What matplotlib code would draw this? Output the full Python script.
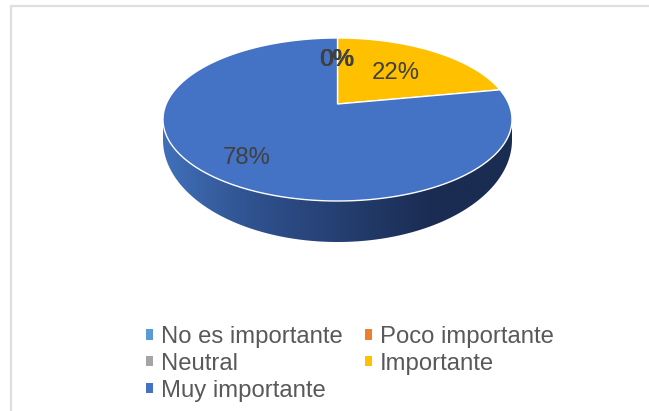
import numpy as np
import matplotlib
matplotlib.use("Agg")
import matplotlib.pyplot as plt
from matplotlib.patches import Polygon, Patch
from matplotlib.colors import LinearSegmentedColormap

categories = ["No es importante", "Poco importante", "Neutral", "Importante", "Muy importante"]
values = [0, 0, 0, 22, 78]
labels = ["0%", "0%", "0%", "22%", "78%"]
colors = ["#5B9BD5", "#ED7D31", "#A5A5A5", "#FFC000", "#4472C4"]

plt.rcParams["font.family"] = ["Liberation Sans", "DejaVu Sans"]
W, H = 649, 411
fig = plt.figure(figsize=(W / 100, H / 100), dpi=100, facecolor="white")
ax = fig.add_axes([0, 0, 1, 1])
ax.set_xlim(0, W)
ax.set_ylim(H, 0)
ax.axis("off")

# chart frame
ax.plot([11, 11, W], [H, 6, 6], color="#DEDEDE", lw=1.6, solid_capstyle="butt", zorder=1)

CX, CY, A, B = 337.5, 119.5, 174.5, 81.5
K = 0.19
S = np.sqrt(1 - K ** 2)


def project(theta):
    """Perspective view of a flat disc; theta runs clockwise from the top."""
    u, v = np.sin(theta), np.cos(theta)
    d = 1 + K * v
    return CX + A * u * S / d, CY - B * (v + K) / d


# side wall with horizontal shading
t = np.linspace(0, 2 * np.pi, 361)
sx = CX + A * np.cos(t[:181])
sy = 140 + 102 * np.sin(t[:181])
side = np.column_stack([np.r_[CX + A, sx, CX - A], np.r_[CY, sy, CY]])
patch = Polygon(side, closed=True, fc="none", ec="none", zorder=2)
ax.add_patch(patch)
cmap = LinearSegmentedColormap.from_list(
    "wall", [(0, "#4070BA"), (0.25, "#30528F"), (0.55, "#233C6C"), (0.77, "#1A2C52"), (1, "#1A2C52")])
im = ax.imshow(np.linspace(0, 1, 256)[None, :], extent=[CX - A, CX + A, 245, CY], cmap=cmap,
               aspect="auto", zorder=2)
im.set_clip_path(patch)
ax.set_xlim(0, W)
ax.set_ylim(H, 0)

# top face
frac = np.cumsum([0] + values) / sum(values) * 2 * np.pi
apex = (CX, CY - B * K)
for i, c in enumerate(colors):
    if values[i] == 0:
        continue
    th = np.linspace(frac[i], frac[i + 1], 200)
    x, y = project(th)
    ax.add_patch(Polygon(np.column_stack([np.r_[apex[0], x], np.r_[apex[1], y]]), closed=True,
                         fc=c, ec="white", lw=1.0, joinstyle="miter", zorder=3))

# data labels
label_pos = [(336.5, 60), (336.5, 60), (337.5, 60), (396, 73.3), (247, 157.5)]
for (x, y), s in zip(label_pos, labels):
    ax.text(x, y, s, fontsize=17.2, color="#404040", ha="center", va="center", zorder=5)

# legend (filled column-wise, so reorder to read row-wise)
order = [0, 2, 4, 1, 3]
handles = [Patch(fc=colors[i], ec="none", label=categories[i]) for i in order]
ax.legend(handles=handles, ncol=2, loc="upper left", bbox_to_anchor=(146 / W, 1 - 326 / H),
          frameon=False, fontsize=17.2, labelcolor="#595959", borderpad=0, borderaxespad=0,
          handlelength=0.3, handleheight=0.3, handletextpad=0.32, columnspacing=0.93,
          labelspacing=0.2)

fig.savefig("out.png", dpi=100, facecolor="white")
